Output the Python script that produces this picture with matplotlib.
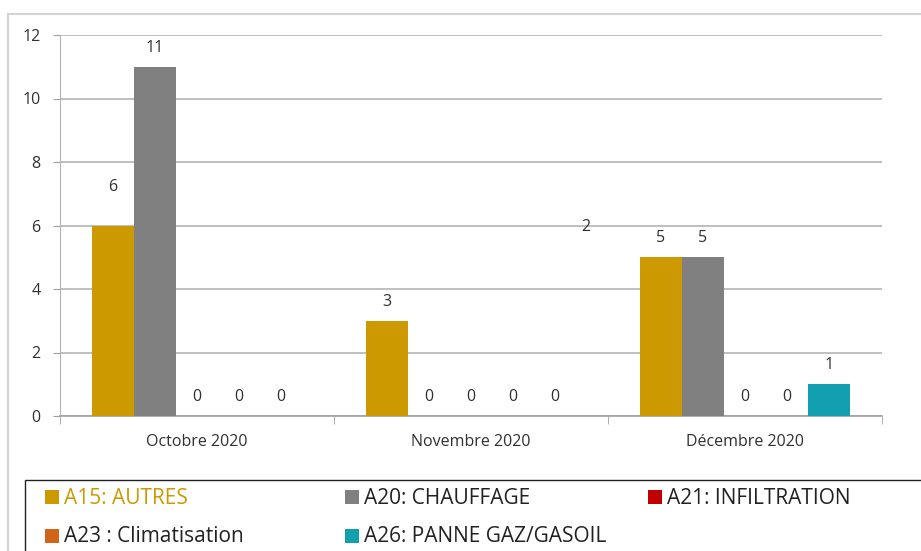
import numpy as np
import matplotlib
matplotlib.use("Agg")
import matplotlib.pyplot as plt
from matplotlib.patches import Rectangle

plt.rcParams["font.family"] = ["Open Sans", "DejaVu Sans"]

# -----------------------------------------------------------------------------
# Data
# -----------------------------------------------------------------------------

months = ["Octobre 2020", "Novembre 2020", "Décembre 2020"]
series = [
    "A15: AUTRES",
    "A20: CHAUFFAGE",
    "A21: INFILTRATION",
    "A23 : Climatisation",
    "A26: PANNE GAZ/GASOIL",
]
a15 = [6, 3, 5]
a20 = [11, 0, 5]
a21 = [0, 0, 0]
a23 = [0, 0, 0]
a26 = [0, 0, 1]
values = [a15, a20, a21, a23, a26]
colors = ["#CC9900", "#808080", "#C00000", "#D2651A", "#129FB0"]
y_ticks = [0, 2, 4, 6, 8, 10, 12]

# stray label in the original chart
stray_label = "2"
stray_pos = (1.42, 5.95)

# -----------------------------------------------------------------------------
# Plot
# -----------------------------------------------------------------------------

fig = plt.figure(figsize=(9.21, 5.51), dpi=100)
ax = fig.add_axes([60 / 921, 1 - 416 / 551, 822 / 921, 381 / 551])

# outer frame
fig.patches.append(Rectangle((8 / 921, -0.05), 1.0, 1 - 14 / 551 + 0.05,
                             transform=fig.transFigure, fill=False,
                             edgecolor="#d4d4d4", linewidth=1.5))

txt = "#303030"
x = np.arange(len(months))
width = 0.1536
for i, (name, vals, col) in enumerate(zip(series, values, colors)):
    pos = x + (i - 2) * width
    ax.bar(pos, vals, width=width, color=col, zorder=3)
    for xp, v in zip(pos, vals):
        extra = 14 if (i == 0 and v == 6) else 0
        ax.annotate(str(v), (xp, v), xytext=(0, 8 + extra),
                    textcoords="offset points", ha="center", va="bottom",
                    fontsize=11.5, color=txt)

ax.text(stray_pos[0], stray_pos[1], stray_label, ha="center", va="center",
        fontsize=11.5, color=txt)

ax.set_xlim(-0.5, 2.5)
ax.set_ylim(0, 12)
ax.set_yticks(y_ticks)
ax.set_yticklabels([str(t) for t in y_ticks], fontsize=11.5, color=txt)
ax.set_xticks(x)
ax.set_xticklabels(months, fontsize=11.5, color=txt)
ax.tick_params(axis="x", length=0, pad=13)
ax.set_xticks([-0.5, 0.5, 1.5, 2.5], minor=True)
ax.tick_params(axis="x", which="minor", length=6, color="#a0a0a0")
ax.tick_params(axis="y", length=5, color="#a0a0a0", pad=9)
ax.grid(axis="y", color="#b4b4b4", linewidth=1.2, zorder=0)
for side in ["top", "right"]:
    ax.spines[side].set_visible(False)
ax.spines["left"].set_color("#b4b4b4")
ax.spines["bottom"].set_color("#a0a0a0")
ax.spines["bottom"].set_linewidth(1.2)

# legend box
fig.patches.append(Rectangle((25 / 921, -0.05), 1.0, 1 - 480 / 551 + 0.05,
                             transform=fig.transFigure, fill=False,
                             edgecolor="#222222", linewidth=1.0))
leg_x = [45, 345, 648]
leg_y = [498, 537]
for i, (name, col) in enumerate(zip(series, colors)):
    lx = leg_x[i % 3]
    ly = leg_y[i // 3]
    fig.patches.append(Rectangle((lx / 921, 1 - (ly + 6) / 551), 14 / 921,
                                 14 / 551, transform=fig.transFigure,
                                 facecolor=col, edgecolor="none"))
    txt_col = "#CC9900" if i == 0 else "#222222"
    fig.text((lx + 19) / 921, 1 - ly / 551, name, fontsize=15,
             color=txt_col, va="center", ha="left")

fig.savefig("out.png", dpi=100)
